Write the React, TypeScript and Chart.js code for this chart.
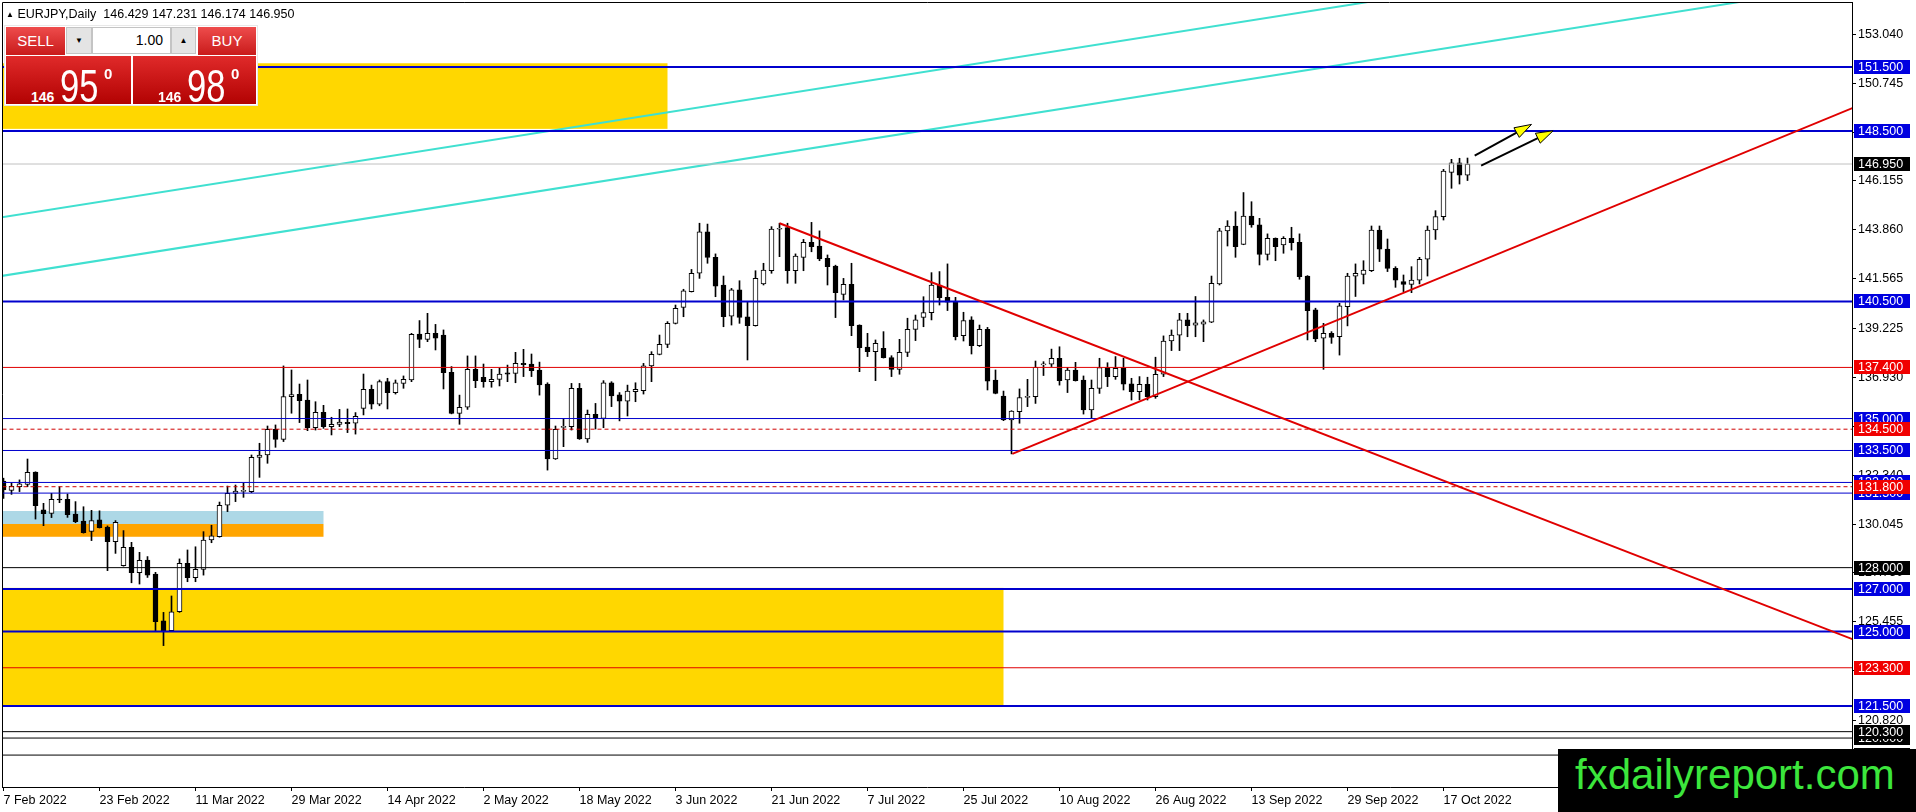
import { useEffect, useRef } from 'react';
import { Chart, registerables } from 'chart.js';

Chart.register(...registerables);

// x axis: one unit = one daily bar, label every 12 bars
const dateLabels = [
  '7 Feb 2022', '23 Feb 2022', '11 Mar 2022', '29 Mar 2022', '14 Apr 2022', '2 May 2022',
  '18 May 2022', '3 Jun 2022', '21 Jun 2022', '7 Jul 2022', '25 Jul 2022', '10 Aug 2022',
  '26 Aug 2022', '13 Sep 2022', '29 Sep 2022', '17 Oct 2022',
];
const dateTickBars = [0, 12, 24, 36, 48, 60, 72, 84, 96, 108, 120, 132, 144, 156, 168, 180];

const priceTicks = [
  153.04, 150.745, 148.45, 146.155, 143.86, 141.565, 139.225, 136.93,
  134.635, 132.34, 130.045, 127.75, 125.455, 123.16, 120.82, 118.525,
];

const opens = [
  132.07, 131.63, 131.80, 131.91, 132.49, 130.71, 130.55, 131.21, 131.21, 130.52,
  130.19, 129.70, 130.24, 129.91, 129.22, 128.09, 128.95, 127.76, 128.36, 127.70,
  125.50, 125.04, 125.93, 128.20, 127.53, 127.92, 129.30, 129.45, 130.93, 131.49,
  131.60, 131.57, 133.18, 133.29, 134.49, 134.02, 136.03, 136.14, 135.87, 134.57,
  135.29, 134.62, 134.73, 134.82, 134.78, 135.48, 136.37, 135.67, 136.73, 136.21,
  136.65, 136.81, 138.97, 138.72, 139.00, 138.92, 137.17, 135.24, 135.53, 137.31,
  136.94, 136.73, 136.84, 137.15, 137.12, 137.59, 137.56, 137.28, 136.62, 133.10,
  134.60, 134.62, 136.42, 134.04, 135.20, 135.01, 136.68, 136.11, 135.82, 136.26,
  136.31, 137.47, 138.01, 138.48, 139.47, 140.22, 140.96, 141.82, 143.77, 142.57,
  141.27, 139.81, 141.04, 139.78, 139.36, 141.32, 141.94, 143.89, 143.96, 141.94,
  142.57, 143.27, 143.10, 142.52, 142.16, 140.83, 141.30, 139.39, 138.35, 138.14,
  138.30, 137.86, 137.31, 138.11, 139.19, 139.75, 139.97, 141.27, 140.69, 140.49,
  138.89, 139.63, 138.42, 139.19, 136.81, 136.06, 134.93, 135.32, 136.00, 136.03,
  137.54, 137.55, 137.83, 136.81, 137.28, 136.81, 135.40, 136.42, 137.39, 136.97,
  137.36, 136.63, 136.26, 136.61, 136.03, 137.08, 138.64, 138.92, 139.63, 139.38,
  139.43, 139.52, 141.32, 143.81, 144.04, 143.18, 144.51, 144.09, 142.71, 143.46,
  143.15, 143.46, 143.27, 141.69, 140.10, 138.77, 139.00, 138.84, 140.25, 141.69,
  141.77, 141.94, 143.85, 142.96, 142.05, 141.43, 141.30, 141.50, 142.48, 143.85,
  144.48, 146.56, 147.01, 146.429,
];
const highs = [
  132.20, 131.99, 132.12, 133.10, 132.50, 131.02, 131.49, 131.80, 131.46, 131.10,
  130.86, 130.69, 130.67, 129.96, 130.21, 129.74, 129.19, 128.72, 128.52, 127.78,
  125.90, 126.67, 128.41, 128.83, 128.98, 129.69, 129.99, 131.08, 131.83, 131.88,
  131.96, 133.29, 133.84, 134.65, 134.70, 137.47, 137.28, 136.62, 136.81, 135.79,
  135.62, 135.06, 135.43, 135.45, 135.28, 137.09, 136.57, 136.81, 136.89, 136.81,
  137.00, 139.00, 139.60, 139.94, 139.42, 139.16, 137.44, 136.10, 137.94, 137.94,
  137.56, 137.31, 137.36, 137.51, 138.11, 138.25, 138.03, 137.65, 136.68, 134.65,
  134.98, 136.65, 136.65, 135.40, 135.71, 136.78, 136.73, 136.22, 136.57, 136.68,
  137.59, 138.14, 138.92, 139.55, 140.33, 141.07, 142.00, 144.17, 144.13, 142.73,
  141.69, 141.11, 141.47, 140.49, 141.94, 142.29, 144.01, 144.17, 144.17, 142.73,
  143.41, 144.21, 143.81, 142.68, 142.20, 141.58, 142.29, 139.40, 139.00, 138.69,
  139.08, 137.95, 138.72, 139.71, 139.86, 140.72, 141.85, 141.90, 142.26, 140.69,
  139.99, 139.78, 139.39, 139.28, 137.28, 136.29, 135.37, 136.39, 136.84, 137.70,
  137.67, 138.26, 138.37, 137.40, 137.64, 137.00, 136.81, 137.83, 137.62, 137.91,
  137.83, 136.89, 136.97, 136.94, 137.88, 138.88, 139.16, 139.94, 139.94, 140.73,
  139.63, 141.69, 143.93, 144.29, 144.71, 145.61, 145.18, 144.40, 143.67, 143.48,
  143.54, 143.98, 143.67, 141.71, 140.18, 139.47, 139.08, 140.41, 141.82, 142.26,
  142.41, 144.04, 144.04, 143.43, 142.13, 141.74, 142.13, 142.57, 144.04, 144.76,
  146.70, 147.17, 147.22, 147.231,
];
const lows = [
  131.25, 131.44, 131.57, 131.80, 130.28, 129.97, 130.35, 131.05, 130.36, 130.11,
  129.62, 129.27, 129.86, 127.86, 128.67, 128.07, 127.29, 127.23, 127.54, 125.04,
  124.34, 125.02, 125.90, 127.34, 127.34, 127.65, 129.17, 129.43, 130.63, 131.10,
  131.30, 131.52, 132.24, 132.90, 133.65, 133.92, 135.25, 134.81, 134.43, 134.46,
  134.54, 134.23, 134.62, 134.34, 134.27, 135.17, 135.45, 135.60, 135.45, 136.15,
  136.42, 136.73, 138.33, 138.61, 138.22, 136.39, 135.22, 134.73, 135.43, 136.45,
  136.47, 136.47, 136.53, 136.73, 136.68, 136.97, 136.97, 136.10, 132.58, 133.08,
  133.68, 134.46, 134.02, 133.88, 134.51, 134.57, 135.56, 134.89, 135.12, 135.79,
  136.15, 136.73, 137.99, 138.33, 139.44, 139.78, 140.94, 141.58, 142.29, 140.72,
  139.31, 139.39, 139.47, 137.75, 139.34, 141.27, 141.82, 142.60, 141.35, 141.35,
  141.94, 142.83, 142.41, 141.27, 139.74, 140.57, 138.89, 137.20, 137.91, 136.78,
  137.84, 136.97, 137.08, 137.91, 138.66, 139.31, 139.63, 140.33, 140.07, 138.69,
  138.64, 138.03, 138.38, 136.34, 136.16, 134.90, 133.34, 134.78, 135.56, 135.71,
  137.02, 137.44, 136.57, 136.22, 136.76, 135.21, 135.01, 136.18, 136.50, 136.84,
  136.34, 135.87, 135.87, 135.87, 135.95, 136.97, 138.19, 138.19, 138.84, 138.84,
  138.61, 139.50, 141.27, 143.10, 142.57, 143.16, 143.98, 142.21, 142.44, 142.41,
  142.76, 142.91, 141.54, 138.69, 138.61, 137.31, 138.53, 137.98, 139.35, 140.73,
  141.32, 141.90, 142.37, 141.90, 141.16, 140.96, 140.91, 141.32, 141.69, 143.41,
  144.32, 145.81, 146.01, 146.174,
];
const closes = [
  131.65, 131.82, 131.93, 132.48, 130.91, 130.53, 131.21, 131.19, 130.49, 130.16,
  129.64, 130.21, 129.88, 129.22, 130.13, 128.95, 127.76, 128.34, 127.65, 125.46,
  125.04, 125.93, 128.20, 127.53, 127.92, 129.30, 129.49, 130.93, 131.49, 131.60,
  131.61, 133.18, 133.29, 134.49, 134.02, 136.03, 136.12, 135.84, 134.57, 135.29,
  134.62, 134.73, 134.84, 134.76, 135.10, 136.37, 135.67, 136.73, 136.21, 136.68,
  136.84, 138.95, 138.72, 139.00, 138.77, 137.15, 135.24, 135.53, 137.31, 136.78,
  136.73, 136.84, 137.09, 137.08, 137.59, 137.53, 137.25, 136.58, 133.10, 134.49,
  134.62, 136.42, 134.04, 135.20, 135.01, 136.68, 136.06, 135.82, 136.29, 136.37,
  137.47, 138.01, 138.48, 139.47, 140.17, 141.00, 141.82, 143.77, 142.57, 141.22,
  139.78, 141.04, 139.75, 139.36, 141.58, 141.97, 143.90, 143.93, 141.94, 142.63,
  143.27, 143.07, 142.49, 142.13, 140.91, 141.30, 139.36, 138.33, 138.14, 138.53,
  137.86, 137.31, 138.11, 139.19, 139.63, 139.97, 141.27, 140.68, 140.46, 138.84,
  139.60, 138.42, 139.19, 136.76, 136.18, 134.93, 135.35, 135.99, 136.03, 137.40,
  137.55, 137.83, 136.78, 137.28, 136.78, 135.40, 136.42, 137.39, 136.97, 137.36,
  136.61, 136.26, 136.61, 136.03, 137.08, 138.64, 138.92, 139.63, 139.36, 139.49,
  139.54, 141.35, 143.81, 144.04, 143.07, 144.51, 144.09, 142.71, 143.46, 143.07,
  143.46, 143.26, 141.66, 140.07, 138.74, 139.00, 138.81, 140.29, 141.69, 141.82,
  141.97, 143.85, 142.95, 142.05, 141.50, 141.30, 141.50, 142.48, 143.85, 144.48,
  146.62, 147.01, 146.43, 146.950,
];

// horizontal levels drawn on the chart
const levelPrices = [
  151.5, 148.5, 146.95, 140.5, 137.4, 135.0, 134.5, 133.5, 132.0, 131.5,
  131.8, 128.0, 127.0, 125.0, 123.3, 121.5, 120.0, 120.3, 119.2,
];
const levelKinds = [
  'blue2', 'blue2', 'bid', 'blue2', 'red', 'blue1', 'redDash', 'blue1', 'blue1', 'blue1',
  'redDash', 'black', 'blue2', 'blue2', 'red', 'blue2', 'black', 'black', 'black',
];

// rectangles: bar range and price range
const zoneBars = [[-1, 83], [-1, 125.0], [-1, 40], [-1, 40]];
const zonePrices = [[151.68, 148.6], [127.05, 121.5], [130.66, 130.05], [130.05, 129.45]];
const zoneKinds = ['yellow', 'yellow', 'lightblue', 'orange'];

// trend lines: [bar0, price0, bar1, price1]
const channelLines = [
  [-1, 141.65, 240, 155.92],
  [-1, 144.40, 200, 156.30],
];
const trendLines = [
  [97.0, 144.17, 240, 123.35],
  [126.1, 133.34, 240, 150.95],
];
const arrowLines = [
  [183.9, 147.34, 191.0, 148.81],
  [184.7, 146.87, 193.7, 148.51],
];

const X_MIN = -0.1875;
const X_MAX = 231.0625;
const Y_MIN = 117.702;
const Y_MAX = 154.556;

const FONT_FAMILY = '"Liberation Sans", Arial, sans-serif';

const levelStyles: Record<string, any> = {
  blue2: { color: '#0000cd', width: 2, dash: [], label: '#0000e0' },
  blue1: { color: '#0000cd', width: 1, dash: [], label: '#0000e0' },
  red: { color: '#e00000', width: 1, dash: [], label: '#f00000' },
  redDash: { color: '#d00000', width: 1, dash: [4, 3], label: '#f00000' },
  black: { color: '#000000', width: 1, dash: [], label: '#000000' },
  bid: { color: '#c0c0c0', width: 1, dash: [], label: '#000000' },
};
const zoneColors: Record<string, string> = {
  yellow: '#ffd700',
  lightblue: '#add8e6',
  orange: '#ffa500',
};

const overlayPlugin = {
  id: 'mtOverlay',
  beforeDatasetsDraw(chart: any) {
    const { ctx, chartArea: a, scales } = chart;
    const x = scales.x;
    const y = scales.y;
    ctx.save();
    ctx.beginPath();
    ctx.rect(a.left, a.top, a.right - a.left, a.bottom - a.top);
    ctx.clip();
    zoneBars.forEach((b, i) => {
      const x0 = x.getPixelForValue(b[0]);
      const x1 = x.getPixelForValue(b[1]);
      const y0 = y.getPixelForValue(zonePrices[i][0]);
      const y1 = y.getPixelForValue(zonePrices[i][1]);
      ctx.fillStyle = zoneColors[zoneKinds[i]];
      ctx.fillRect(x0, y0, x1 - x0, y1 - y0);
    });
    ctx.restore();
  },
  afterDatasetsDraw(chart: any) {
    const { ctx, chartArea: a, scales } = chart;
    const x = scales.x;
    const y = scales.y;
    ctx.save();
    ctx.beginPath();
    ctx.rect(a.left, a.top, a.right - a.left, a.bottom - a.top);
    ctx.clip();
    arrowLines.forEach((l) => {
      const x0 = x.getPixelForValue(l[0]);
      const y0 = y.getPixelForValue(l[1]);
      const x1 = x.getPixelForValue(l[2]);
      const y1 = y.getPixelForValue(l[3]);
      const ang = Math.atan2(y1 - y0, x1 - x0);
      const len = 17;
      const half = 5.5;
      const bx = x1 - Math.cos(ang) * len;
      const by = y1 - Math.sin(ang) * len;
      ctx.strokeStyle = '#000';
      ctx.lineWidth = 2;
      ctx.beginPath();
      ctx.moveTo(x0, y0);
      ctx.lineTo(bx, by);
      ctx.stroke();
      ctx.beginPath();
      ctx.moveTo(x1, y1);
      ctx.lineTo(bx + Math.sin(ang) * half, by - Math.cos(ang) * half);
      ctx.lineTo(bx - Math.sin(ang) * half, by + Math.cos(ang) * half);
      ctx.closePath();
      ctx.fillStyle = '#ffff00';
      ctx.fill();
      ctx.lineWidth = 1;
      ctx.stroke();
    });
    ctx.restore();
  },
  afterDraw(chart: any) {
    const { ctx, chartArea: a, scales } = chart;
    const y = scales.y;
    ctx.save();
    // chart frame (left / top)
    ctx.strokeStyle = '#000';
    ctx.lineWidth = 1;
    ctx.beginPath();
    ctx.moveTo(a.left + 0.5, a.bottom);
    ctx.lineTo(a.left + 0.5, a.top + 0.5);
    ctx.lineTo(a.right, a.top + 0.5);
    ctx.stroke();
    // price labels on the axis
    ctx.font = `12.5px ${FONT_FAMILY}`;
    ctx.textBaseline = 'middle';
    ctx.textAlign = 'left';
    levelPrices.forEach((p, i) => {
      const st = levelStyles[levelKinds[i]];
      const py = Math.round(y.getPixelForValue(p));
      ctx.fillStyle = st.label;
      ctx.fillRect(a.right + 2, py - 7, 56, 14);
      ctx.fillStyle = '#fff';
      ctx.fillText(p.toFixed(3), a.right + 6, py + 1);
    });
    ctx.restore();
  },
};

function CandleChart() {
  const canvasRef = useRef<HTMLCanvasElement>(null);
  const chartRef = useRef<Chart | null>(null);

  useEffect(() => {
    if (!canvasRef.current) return;
    if (chartRef.current) chartRef.current.destroy();

    const wickData = opens.map((_, i) => ({ x: i, y: [lows[i], highs[i]] }));
    const bodyData = opens.map((o, i) => {
      const c = closes[i];
      let lo = Math.min(o, c);
      let hi = Math.max(o, c);
      if (hi - lo < 0.04) {
        const mid = (hi + lo) / 2;
        lo = mid - 0.025;
        hi = mid + 0.025;
      }
      return { x: i, y: [lo, hi] };
    });
    const bodyColors = opens.map((o, i) => (closes[i] >= o ? '#ffffff' : '#000000'));

    const segment = (pts: number[], color: string, width: number, dash: number[], order: number) => ({
      type: 'line' as const,
      data: [{ x: pts[0], y: pts[1] }, { x: pts[2], y: pts[3] }],
      borderColor: color,
      borderWidth: width,
      borderDash: dash,
      pointRadius: 0,
      fill: false,
      tension: 0,
      order,
    });

    const levelSets = levelPrices.map((p, i) => {
      const st = levelStyles[levelKinds[i]];
      return segment([-1, p, 240, p], st.color, st.width, st.dash, 1);
    });
    const channelSets = channelLines.map((l) => segment(l, '#40e0d0', 2, [], 1));
    const trendSets = trendLines.map((l) => segment(l, '#e00000', 2, [], 0));

    chartRef.current = new Chart(canvasRef.current, {
      type: 'bar',
      data: {
        datasets: [
          ...levelSets,
          ...channelSets,
          ...trendSets,
          {
            type: 'bar',
            data: bodyData,
            backgroundColor: bodyColors,
            borderColor: '#000',
            borderWidth: 1,
            borderSkipped: false,
            barThickness: 5,
            grouped: false,
            order: 2,
          },
          {
            type: 'bar',
            data: wickData,
            backgroundColor: '#000',
            borderWidth: 0,
            barThickness: 1,
            grouped: false,
            order: 3,
          },
        ] as any,
      },
      options: {
        responsive: false,
        animation: false,
        events: [],
        layout: { padding: { left: 2, top: 2, right: 0, bottom: 0 } },
        plugins: {
          legend: { display: false },
          tooltip: { enabled: false },
        },
        scales: {
          x: {
            type: 'linear',
            position: 'bottom',
            offset: false,
            min: X_MIN,
            max: X_MAX,
            afterBuildTicks: (s: any) => {
              s.ticks = dateTickBars.map((v) => ({ value: v }));
            },
            afterFit: (s: any) => {
              s.height = 25;
              s.paddingLeft = 0;
              s.paddingRight = 0;
            },
            ticks: {
              callback: (_v: any, i: number) => dateLabels[i] ?? '',
              align: 'start',
              maxRotation: 0,
              autoSkip: false,
              color: '#000',
              padding: 2,
              font: { family: FONT_FAMILY, size: 12.5 },
            },
            grid: { offset: false, drawOnChartArea: false, drawTicks: true, tickLength: 4, color: '#000' },
            border: { display: true, color: '#000' },
          },
          y: {
            type: 'linear',
            position: 'right',
            min: Y_MIN,
            max: Y_MAX,
            afterBuildTicks: (s: any) => {
              s.ticks = priceTicks.map((v) => ({ value: v }));
            },
            afterFit: (s: any) => {
              s.width = 64;
              s.paddingTop = 0;
              s.paddingBottom = 0;
            },
            ticks: {
              callback: (v: any) => Number(v).toFixed(3),
              color: '#000',
              padding: 2,
              autoSkip: false,
              font: { family: FONT_FAMILY, size: 12.5 },
            },
            grid: { drawOnChartArea: false, drawTicks: true, tickLength: 4, color: '#000' },
            border: { display: true, color: '#000' },
          },
        },
      } as any,
      plugins: [overlayPlugin],
    });

    return () => {
      if (chartRef.current) {
        chartRef.current.destroy();
        chartRef.current = null;
      }
    };
  }, []);

  return <canvas ref={canvasRef} width={1916} height={812} style={{ position: 'absolute', left: 0, top: 0 }} />;
}

const btnRed = 'linear-gradient(#ee4c4c, #c91b1b)';
const boxRed = 'linear-gradient(#e02a2a, #b20202)';

function PriceBox({ left, width, big }: { left: number; width: number; big: string }) {
  return (
    <div style={{ position: 'absolute', left, top: 56, width, height: 48, background: boxRed, color: '#fff' }}>
      <span style={{ position: 'absolute', left: 25, top: 34, fontSize: 14, lineHeight: '14px', fontWeight: 'bold' }}>146</span>
      <span
        style={{
          position: 'absolute', left: 54, top: 7, fontSize: 46, lineHeight: '46px',
          transform: 'scaleX(0.75)', transformOrigin: 'left',
        }}
      >
        {big}
      </span>
      <span style={{ position: 'absolute', left: 98, top: 10, fontSize: 15, lineHeight: '15px', fontWeight: 'bold' }}>0</span>
    </div>
  );
}

export default function App() {
  const grey = { position: 'absolute' as const, top: 27, height: 27, background: '#e4e4e4', border: '1px solid #c4c4c4', boxSizing: 'border-box' as const, fontSize: 8, lineHeight: '25px', textAlign: 'center' as const, color: '#000' };
  return (
    <div
      style={{
        position: 'fixed', left: 0, top: 0, width: 1916, height: 812, background: '#fff',
        overflow: 'hidden', fontFamily: FONT_FAMILY,
      }}
    >
      <CandleChart />
      <div style={{ position: 'absolute', left: 6, top: 6, fontSize: 12.5, lineHeight: '16px', color: '#000', whiteSpace: 'pre' }}>
        <span style={{ fontSize: 8, verticalAlign: 1 }}>▲</span> EURJPY,Daily  146.429 147.231 146.174 146.950
      </div>

      {/* one-click trading panel */}
      <div style={{ position: 'absolute', left: 4, top: 25, width: 254, height: 81, background: '#fff', border: '1px solid #e8e8e8', boxSizing: 'border-box' }} />
      <div style={{ position: 'absolute', left: 6, top: 27, width: 59, height: 28, background: btnRed, color: '#fff', fontSize: 15, lineHeight: '27px', textAlign: 'center' }}>SELL</div>
      <div style={{ ...grey, left: 66, width: 26 }}>▼</div>
      <div style={{ position: 'absolute', left: 92, top: 27, width: 79, height: 27, background: '#fff', border: '1px solid #c4c4c4', boxSizing: 'border-box', fontSize: 14, lineHeight: '25px', textAlign: 'right', paddingRight: 7, color: '#000' }}>1.00</div>
      <div style={{ ...grey, left: 171, width: 25 }}>▲</div>
      <div style={{ position: 'absolute', left: 198, top: 27, width: 58, height: 28, background: btnRed, color: '#fff', fontSize: 15, lineHeight: '27px', textAlign: 'center' }}>BUY</div>
      <PriceBox left={6} width={125} big="95" />
      <PriceBox left={133} width={123} big="98" />

      {/* watermark */}
      <div style={{ position: 'absolute', left: 1558, top: 749, width: 358, height: 63, background: '#000' }}>
        <span style={{ position: 'absolute', left: 17, top: 5, fontSize: 42, lineHeight: '42px', color: '#3ce63c', whiteSpace: 'nowrap' }}>
          fxdailyreport.com
        </span>
      </div>
    </div>
  );
}
